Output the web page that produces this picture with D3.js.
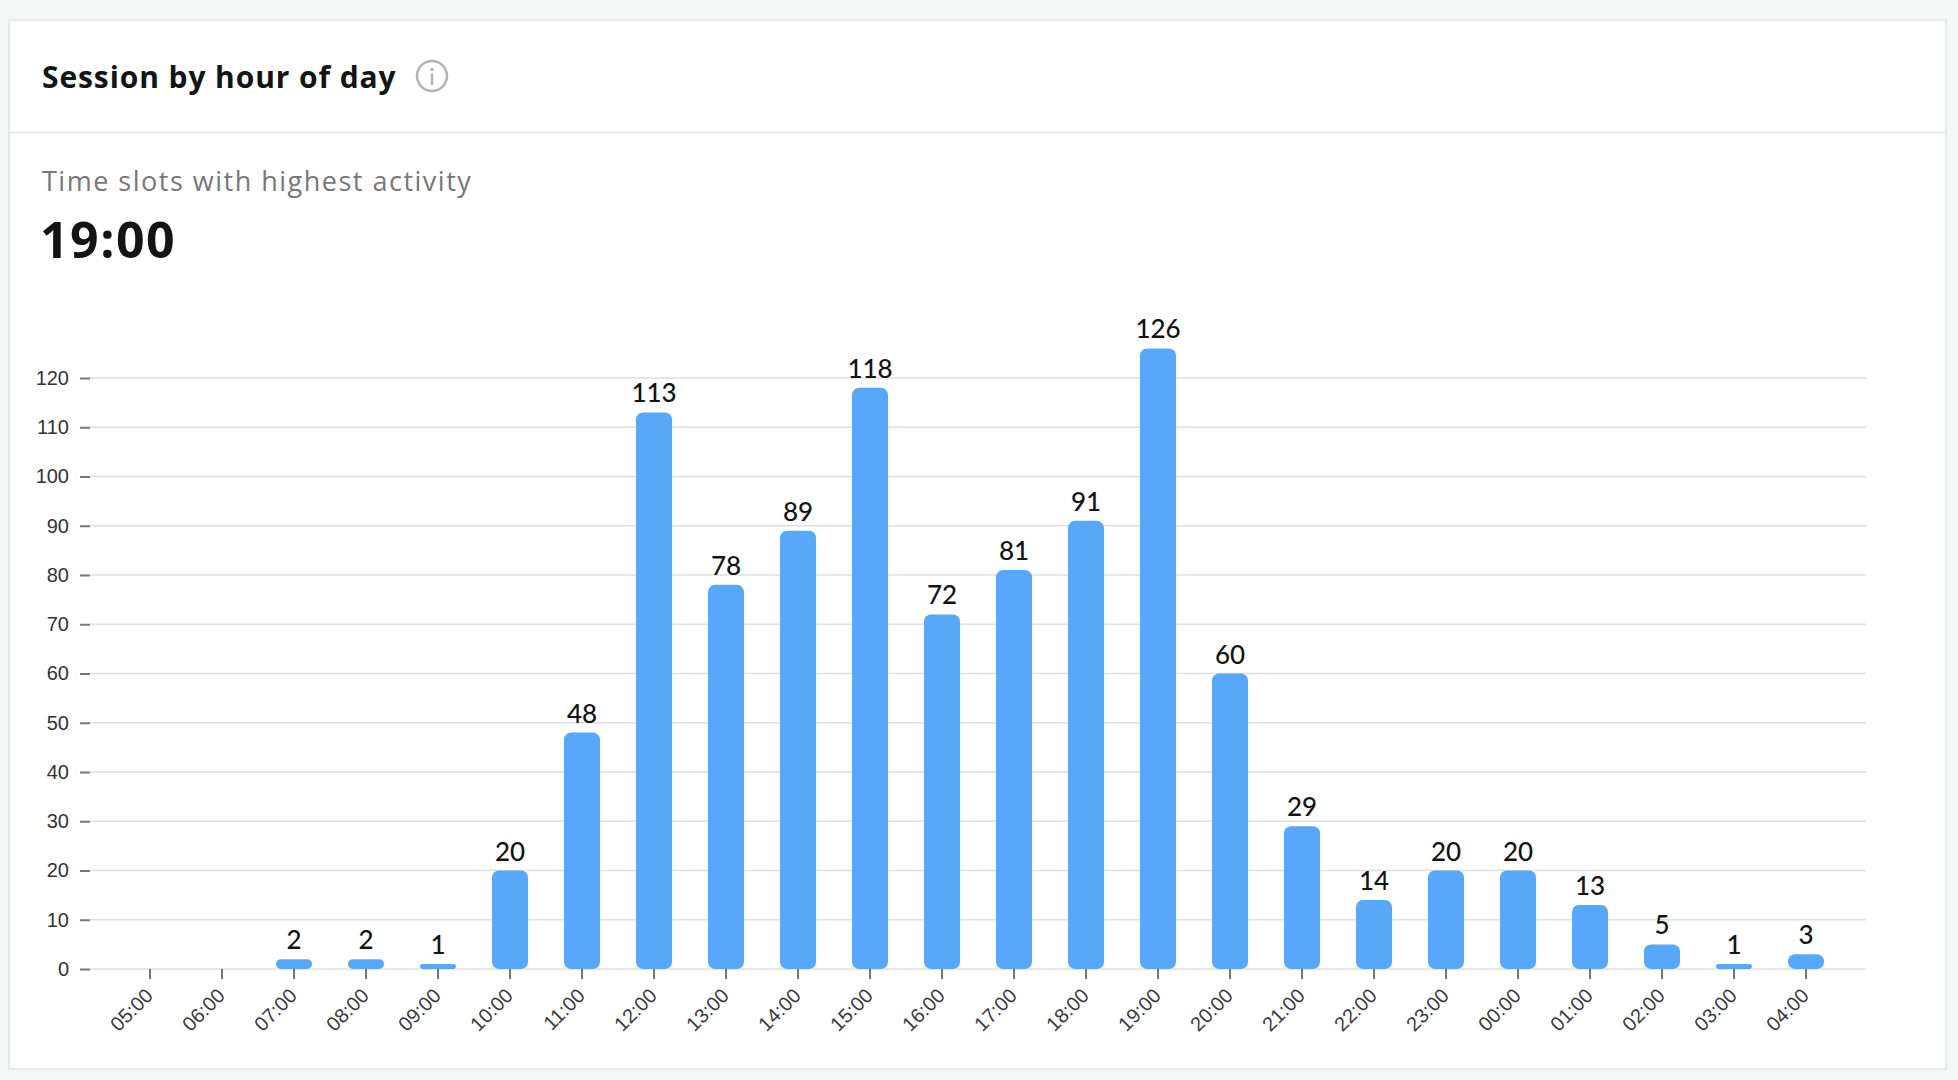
<!DOCTYPE html>
<html>
<head>
<meta charset="utf-8">
<script src="https://cdn.jsdelivr.net/npm/d3@7"></script>
<style>
  html, body { margin: 0; padding: 0; background: #f5f7f6; }
  svg { display: block; }
</style>
</head>
<body>
<div id="chart"></div>
<script>
// session counts per hour
var hours = ['05:00','06:00','07:00','08:00','09:00','10:00','11:00','12:00',
             '13:00','14:00','15:00','16:00','17:00','18:00','19:00','20:00',
             '21:00','22:00','23:00','00:00','01:00','02:00','03:00','04:00'];
var sessions = [0, 0, 2, 2, 1, 20, 48, 113, 78, 89, 118, 72, 81, 91, 126, 60,
                29, 14, 20, 20, 13, 5, 1, 3];
var yTicks = [0, 10, 20, 30, 40, 50, 60, 70, 80, 90, 100, 110, 120];

var title = 'Session by hour of day',
    subtitle = 'Time slots with highest activity',
    peak = '19:00';

var W = 1958, H = 1080;
var headFont = '"Open Sans", Lato, sans-serif',
    labelFont = 'Lato, "Open Sans", sans-serif',
    axisFont = '"Liberation Sans", Arial, sans-serif';

var svg = d3.select('#chart').append('svg')
  .attr('width', W)
  .attr('height', H);

// card
svg.append('rect')
  .attr('x', 9).attr('y', 20)
  .attr('width', 1937).attr('height', 1049)
  .attr('fill', '#fff')
  .attr('stroke', '#e8eaea')
  .attr('stroke-width', 2);

svg.append('line')
  .attr('x1', 10).attr('x2', 1945)
  .attr('y1', 132.5).attr('y2', 132.5)
  .attr('stroke', '#e8eaea')
  .attr('stroke-width', 2);

// header
svg.append('text')
  .attr('x', 42).attr('y', 88)
  .style('font-family', headFont)
  .style('font-weight', 700)
  .style('font-size', '30px')
  .style('letter-spacing', '0.9px')
  .style('fill', '#141414')
  .text(title);

var info = svg.append('g').attr('transform', 'translate(432,76)');
info.append('circle')
  .attr('r', 15)
  .attr('fill', 'none')
  .attr('stroke', '#b3b3b3')
  .attr('stroke-width', 2.5);
info.append('circle')
  .attr('cy', -6.5).attr('r', 1.8)
  .attr('fill', '#b3b3b3');
info.append('line')
  .attr('y1', -1.5).attr('y2', 8)
  .attr('stroke', '#b3b3b3')
  .attr('stroke-width', 2.5)
  .attr('stroke-linecap', 'round');

svg.append('text')
  .attr('x', 42).attr('y', 191)
  .style('font-family', headFont)
  .style('font-size', '27px')
  .style('letter-spacing', '1.5px')
  .style('fill', '#777')
  .text(subtitle);

svg.append('text')
  .attr('x', 40).attr('y', 258)
  .style('font-family', headFont)
  .style('font-weight', 700)
  .style('font-size', '50px')
  .style('letter-spacing', '1.5px')
  .style('fill', '#141414')
  .text(peak);

// chart
var gridLeft = 90, gridRight = 1866;

var x = d3.scaleBand()
  .domain(hours)
  .range([114, 1842])
  .paddingInner(0.5)
  .paddingOuter(0.25);

var y = d3.scaleLinear()
  .domain([0, 120])
  .range([969, 378]);

var plot = svg.append('g');

plot.append('g').selectAll('line').data(yTicks).enter()
  .append('line')
  .attr('x1', gridLeft).attr('x2', gridRight)
  .attr('y1', function(d) { return y(d); })
  .attr('y2', function(d) { return y(d); })
  .attr('stroke', '#dedede')
  .attr('stroke-width', 1.6);

// y axis: ticks and labels only
var yAxis = plot.append('g')
  .attr('transform', 'translate(' + gridLeft + ',0)')
  .call(d3.axisLeft(y).tickValues(yTicks).tickSize(10).tickPadding(11));
yAxis.select('.domain').remove();
yAxis.selectAll('.tick line').attr('stroke', '#777').attr('stroke-width', 2);
yAxis.selectAll('.tick text')
  .style('font-family', axisFont)
  .style('font-size', '20px')
  .style('fill', '#333');

// x axis
var xAxis = plot.append('g')
  .attr('transform', 'translate(0,' + y(0) + ')')
  .call(d3.axisBottom(x).tickSize(10).tickSizeOuter(0));
xAxis.select('.domain').remove();
xAxis.selectAll('.tick line').attr('stroke', '#777').attr('stroke-width', 2);
xAxis.selectAll('.tick text')
  .attr('y', 0).attr('dy', 0)
  .attr('transform', 'translate(4,28) rotate(-45)')
  .attr('text-anchor', 'end')
  .style('font-family', axisFont)
  .style('font-size', '20px')
  .style('fill', '#3a3a3a');

var data = hours.map(function(h, i) { return {hour: h, value: sessions[i]}; });

plot.append('g').selectAll('rect').data(data.filter(function(d) { return d.value > 0; })).enter()
  .append('rect')
  .attr('x', function(d) { return x(d.hour); })
  .attr('y', function(d) { return y(d.value); })
  .attr('width', x.bandwidth())
  .attr('height', function(d) { return y(0) - y(d.value); })
  .attr('rx', function(d) { return Math.min(7, (y(0) - y(d.value)) / 2); })
  .attr('fill', '#57a8f8');

plot.append('g').selectAll('text').data(data.filter(function(d) { return d.value > 0; })).enter()
  .append('text')
  .attr('x', function(d) { return x(d.hour) + x.bandwidth() / 2; })
  .attr('y', function(d) { return y(d.value) - 10; })
  .attr('text-anchor', 'middle')
  .style('font-family', labelFont)
  .style('font-weight', 500)
  .style('font-size', '26px')
  .style('fill', '#141414')
  .text(function(d) { return d.value; });
</script>
</body>
</html>
